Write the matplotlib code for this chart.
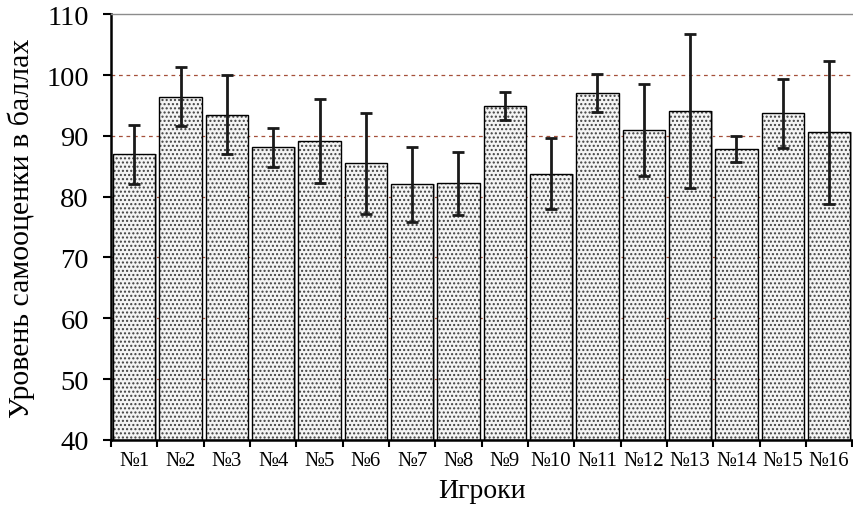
import numpy as np
import matplotlib
matplotlib.use("Agg")
import matplotlib.pyplot as plt

plt.rcParams['font.family'] = ['Liberation Serif', 'DejaVu Serif']

# данные
players = ["№1", "№2", "№3", "№4", "№5", "№6", "№7", "№8",
           "№9", "№10", "№11", "№12", "№13", "№14", "№15", "№16"]
scores = [87.0, 96.4, 93.5, 88.1, 89.1, 85.5, 82.0, 82.2,
          94.9, 83.8, 97.0, 90.9, 94.1, 87.9, 93.7, 90.6]
errors = [4.85, 4.85, 6.45, 3.15, 6.9, 8.3, 6.15, 5.15,
          2.35, 5.9, 3.1, 7.55, 12.65, 2.15, 5.7, 11.75]
y_ticks = [40, 50, 60, 70, 80, 90, 100, 110]

x = np.arange(len(players))
heights = np.array(scores) - 40

fig = plt.figure(figsize=(8.54, 5.06), dpi=100)
ax = fig.add_axes([0.130, 0.1285, 0.868, 0.8415])

# сетка
for t in y_ticks[1:-1]:
    ax.axhline(t, color="#a5503a", linestyle=(0, (3, 3)), linewidth=0.9, zorder=0)

# тень справа
ax.bar(x + 0.03, heights, bottom=40, width=0.91,
       color="#a8a8a8", linewidth=0, zorder=1)
# заливка точками
ax.bar(x, heights, bottom=40, width=0.91, color="#f4f4f4",
       edgecolor="#404040", hatch="....", linewidth=0, zorder=2)
# контур
ax.bar(x, heights, bottom=40, width=0.91, fill=False,
       edgecolor="black", linewidth=1.0, zorder=3)

ax.errorbar(x, scores, yerr=errors, fmt="none", ecolor="#1a1a1a",
            elinewidth=2.0, capsize=4, capthick=2.0, zorder=4)

ax.set_xlim(-0.5, len(players) - 0.5)
ax.set_ylim(40, 110)
ax.set_yticks(y_ticks)
ax.tick_params(axis="y", labelsize=20.5, direction="out", length=6, width=1.5, pad=10)

ax.set_xticks(x)
ax.set_xticklabels(players, fontsize=15)
ax.tick_params(axis="x", which="major", length=0, pad=8)
ax.set_xticks(np.arange(len(players) + 1) - 0.5, minor=True)
ax.tick_params(axis="x", which="minor", direction="out", length=5, width=1.5)

ax.spines["left"].set_linewidth(1.8)
ax.spines["bottom"].set_linewidth(1.8)
ax.spines["top"].set_color("#8c8c8c")
ax.spines["top"].set_linewidth(1.0)
ax.spines["right"].set_visible(False)

ax.set_xlabel("Игроки", fontsize=20, labelpad=6)
ax.set_ylabel("Уровень самооценки в баллах", fontsize=21.5, labelpad=8)

fig.savefig("out.png", dpi=100)
